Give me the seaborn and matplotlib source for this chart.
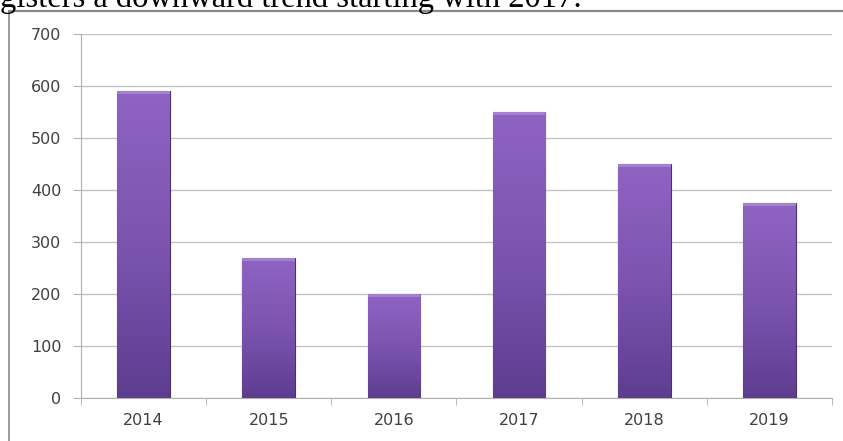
import numpy as np
import pandas as pd
import matplotlib
matplotlib.use("Agg")
import matplotlib.pyplot as plt
from matplotlib.colors import LinearSegmentedColormap
from matplotlib.patches import Rectangle
import seaborn as sns

years = ["2014", "2015", "2016", "2017", "2018", "2019"]
values = [590, 270, 200, 550, 450, 375]
y_ticks = [0, 100, 200, 300, 400, 500, 600, 700]
caption = "gisters a downward trend starting with 2017."

sns.set_style("white")
plt.rcParams["font.family"] = ["DejaVu Sans"]

fig = plt.figure(figsize=(8.43, 4.41), dpi=100)
fig.patch.set_facecolor("white")

# caption line above the chart frame, clipped by the top edge
fig.text(0.0, 1 - 7 / 441, caption, family="Liberation Serif", fontsize=23.5,
         color="black", ha="left", va="baseline")

# chart frame (left and top edges visible)
fig.add_artist(plt.Line2D([8.5 / 843, 8.5 / 843], [0, 1 - 11 / 441],
                          transform=fig.transFigure, color="#8a8a8a", lw=1.2))
fig.add_artist(plt.Line2D([8.5 / 843, 1.0], [1 - 11 / 441, 1 - 11 / 441],
                          transform=fig.transFigure, color="#8a8a8a", lw=1.6))

ax = fig.add_axes([81 / 843, 1 - 398 / 441, (832 - 81) / 843, (398 - 34) / 441])

df = pd.DataFrame({"year": years, "value": values})
sns.barplot(data=df, x="year", y="value", color="#7a50b0", width=0.42,
            edgecolor="#4a2f73", linewidth=0.8, ax=ax, zorder=3)

# vertical purple gradient inside each bar
cmap = LinearSegmentedColormap.from_list("bar", ["#8f63c2", "#7c54b0", "#5e3d90"])
grad = np.linspace(0, 1, 256).reshape(-1, 1)
for p in ax.patches:
    x0, y0 = p.get_x(), p.get_y()
    w, h = p.get_width(), p.get_height()
    im = ax.imshow(grad, cmap=cmap, aspect="auto", origin="upper",
                   extent=[x0, x0 + w, y0, y0 + h], zorder=3.5)
    im.set_clip_path(p)
    ax.add_patch(Rectangle((x0, y0 + h - 6), w, 6, facecolor="#b594e0",
                           edgecolor="none", alpha=0.6, zorder=3.6,
                           clip_path=p))

ax.set_xlim(-0.5, len(years) - 0.5)
ax.set_ylim(0, 700)
ax.set_yticks(y_ticks)
ax.set_yticklabels([str(t) for t in y_ticks])
ax.set_xlabel("")
ax.set_ylabel("")

ax.grid(axis="y", color="#c4c4c4", lw=1, zorder=0)
ax.set_axisbelow(True)
for s in ["top", "right"]:
    ax.spines[s].set_visible(False)
ax.spines["left"].set_color("#b0b0b0")
ax.spines["bottom"].set_color("#b0b0b0")

ax.tick_params(axis="y", length=6, color="#b0b0b0", labelsize=11.5,
               labelcolor="#404040", pad=8, left=True)
ax.tick_params(axis="x", length=0, labelsize=11.5, labelcolor="#404040", pad=11)
# category boundary ticks on the x axis
ax.set_xticks(np.arange(-0.5, len(years) + 0.5, 1), minor=True)
ax.tick_params(axis="x", which="minor", length=5, color="#b0b0b0",
               direction="out", bottom=True)

fig.savefig("out.png", dpi=100, facecolor="white")
